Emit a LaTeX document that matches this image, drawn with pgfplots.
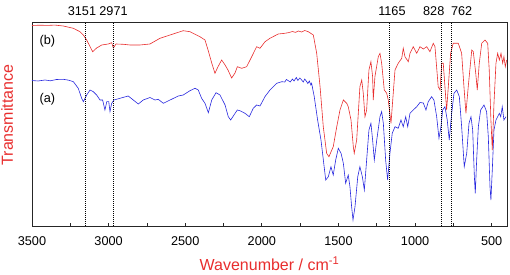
\documentclass[border=0pt]{standalone}
\usepackage{pgfplots}
\pgfplotsset{compat=1.18}
\usepackage{fontspec}
\setmainfont{Liberation Sans}
\definecolor{specred}{RGB}{232,45,45}
\definecolor{specblue}{RGB}{40,40,222}
\pgfplotstableread{
x y
3500 200.5
3450 200.8
3400 200.6
3350 200.9
3296 200
3230 197.7
3187 194.3
3165 191
3143 186
3121 179.3
3104 174.3
3078 178
3045 181
3002 182
2980 183.3
2969 178
2952 182
2904 181.7
2860 181
2795 181
2730 182
2665 187.7
2599 191
2513 195.3
2469 194.3
2404 189.3
2371 186
2351 176
2327 163
2306 152.7
2286 159.3
2262 166
2240 161
2221 156
2197 148
2175 153
2160 159.3
2131 157.7
2099 159.3
2066 169.3
2034 179.3
2012 177.7
1979 184.3
1947 187.7
1893 192
1860 192.5
1827 193.3
1800 194.5
1780 193.6
1762 195
1740 194
1720 195.5
1697 194.3
1664 191
1642 172.7
1620 139.3
1599 99.3
1577 72.7
1562 69.3
1534 79.3
1511 99.3
1490 116
1468 126
1446 122.7
1436 119.3
1418 106
1403 79.3
1397 72.7
1381 86
1360 139.3
1348 146
1338 132.7
1327 109.3
1316 116
1301 156
1288 164.3
1277 149.3
1273 126
1262 149.3
1240 169.3
1229 172.7
1218 162.7
1201 136
1185 132.7
1175 126
1157 102.7
1149 119.3
1131 156
1110 162.7
1087 167.7
1077 177.7
1066 169.3
1044 164.3
1033 172.7
1012 179.3
989 172.7
968 179.3
946 177
924 179.3
903 174.3
881 182.7
870 179.3
849 139.3
837 136
826 162.7
816 162.7
805 139.3
794 116
783 139.3
768 172.7
751 182.7
718 182.7
696 172.7
681 139.3
668 112.7
653 139.3
630 176
620 174.3
604 152.7
594 136
581 162.7
565 182.7
544 186
526 182.7
516 156
505 106
496 76
485 122.7
472 162.7
461 172.7
450 166
439 172.7
428 162.7
420 169.3
411 159.3
402 166
}\redtab
\pgfplotstableread{
x y
3500 145.5
3460 145
3415 146
3380 145.2
3340 146.5
3296 146.7
3260 145.8
3230 144.3
3198 137.7
3176 127.7
3165 124.3
3143 131
3121 136
3100 134.3
3078 131
3056 126
3039 126
3024 116
3012 124.3
2999 124.3
2991 114.3
2980 122.7
2965 126
2926 127.7
2872 130
2839 126
2806 122
2774 126
2730 128.5
2697 126
2676 126.7
2643 122.7
2599 126
2545 130
2513 131
2469 135.3
2436 137.7
2415 136
2393 127.7
2371 122.7
2349 113.3
2327 126
2299 133.3
2273 131
2240 121
2219 109.3
2203 106
2182 111
2160 116
2143 115.3
2110 112.7
2082 109.3
2056 117.7
2034 121
2012 120
1979 129.5
1947 136
1903 142.7
1870 144.3
1850 144
1840 146.5
1827 145.3
1815 144
1800 147
1790 145
1775 148.5
1765 145.5
1752 148
1740 146
1730 144
1720 147
1707 144.3
1700 142.5
1690 145
1680 141
1675 142.7
1658 129.3
1636 106
1614 86
1596 62.7
1583 46
1566 49.3
1549 59.3
1534 51
1518 66
1501 77.7
1483 72.7
1468 62.7
1453 42.7
1436 51
1425 39.3
1414 19.3
1405 6
1392 19.3
1374 49.3
1360 59.3
1344 49.3
1331 36
1316 66
1301 96
1288 102.7
1277 86
1266 66
1250 86
1229 109.3
1218 114.3
1207 102.7
1192 66
1179 46
1164 72.7
1149 92.7
1131 99.3
1110 97.7
1092 106
1077 99.3
1061 109.3
1048 99.3
1033 112.7
1012 116
989 119.3
968 123.5
946 123
929 116
914 124.3
892 129.3
877 126
859 109.3
844 87.7
831 99.3
820 116
805 119.3
790 106
777 86
761 112.7
746 132.7
728 136
711 129.3
696 99.3
679 59.3
663 72.7
648 102.7
635 109.3
624 96
613 49.3
607 32.7
598 66
587 99.3
572 116
550 121
533 114.3
522 89.3
511 39.3
505 26
496 56
485 96
472 106
461 109.3
450 112.7
441 109.3
431 119.3
420 106
407 109.3
}\bluetab
\begin{document}
\begin{tikzpicture}
\useasboundingbox (-32pt,-49pt) rectangle (478pt,226pt);
\begin{axis}[
  scale only axis,
  width=475pt, height=204pt,
  x dir=reverse,
  xmin=400, xmax=3500,
  ymin=0, ymax=204,
  xtick={500,1000,...,3500},
  minor xtick={750,1250,...,3250},
  ytick=\empty,
  xtick pos=bottom,
  tick align=inside,
  major tick length=3pt,
  minor tick length=3pt,
  axis line style={line width=0.8pt, black!85},
  every tick/.style={line width=0.8pt, black!85},
  /pgf/number format/1000 sep={},
  /pgf/number format/assume math mode=true,
  xticklabel style={font=\fontsize{12.7}{15}\selectfont, yshift=-7pt},
  xlabel={Wavenumber / cm\textsuperscript{-1}},
  xlabel style={font=\fontsize{16}{19}\selectfont, text=specred, at={(axis description cs:0.5,0)}, anchor=base, yshift=-44.5pt},
  ylabel={Transmittance},
  ylabel style={font=\fontsize{16}{19}\selectfont, text=specred, at={(axis description cs:-0.04,0.544)}, anchor=base},
  clip=false,
]
\addplot[specblue, line width=0.6pt] table[x=x,y=y] {\bluetab};
\addplot[specred, line width=0.6pt] table[x=x,y=y] {\redtab};
\foreach \w in {3151,2971,1165,828,762} {
  \edef\temp{\noexpand\addplot[black, line width=1pt, dash pattern=on 1pt off 1pt] coordinates {(\w,0) (\w,204)};}
  \temp
}
\node[anchor=base, font=\fontsize{12.7}{15}\selectfont] at (axis cs:3174,204) [yshift=6.3pt] {3151};
\node[anchor=base, font=\fontsize{12.7}{15}\selectfont] at (axis cs:2968,204) [yshift=6.3pt] {2971};
\node[anchor=base, font=\fontsize{12.7}{15}\selectfont] at (axis cs:1151,204) [yshift=6.3pt] {1165};
\node[anchor=base, font=\fontsize{12.7}{15}\selectfont] at (axis cs:878,204) [yshift=6.3pt] {828};
\node[anchor=base, font=\fontsize{12.7}{15}\selectfont] at (axis cs:696,204) [yshift=6.3pt] {762};
\node[font=\fontsize{12.7}{15}\selectfont] at (axis cs:3399,185) {(b)};
\node[font=\fontsize{12.7}{15}\selectfont] at (axis cs:3399,127) {(a)};
\end{axis}
\end{tikzpicture}
\end{document}
